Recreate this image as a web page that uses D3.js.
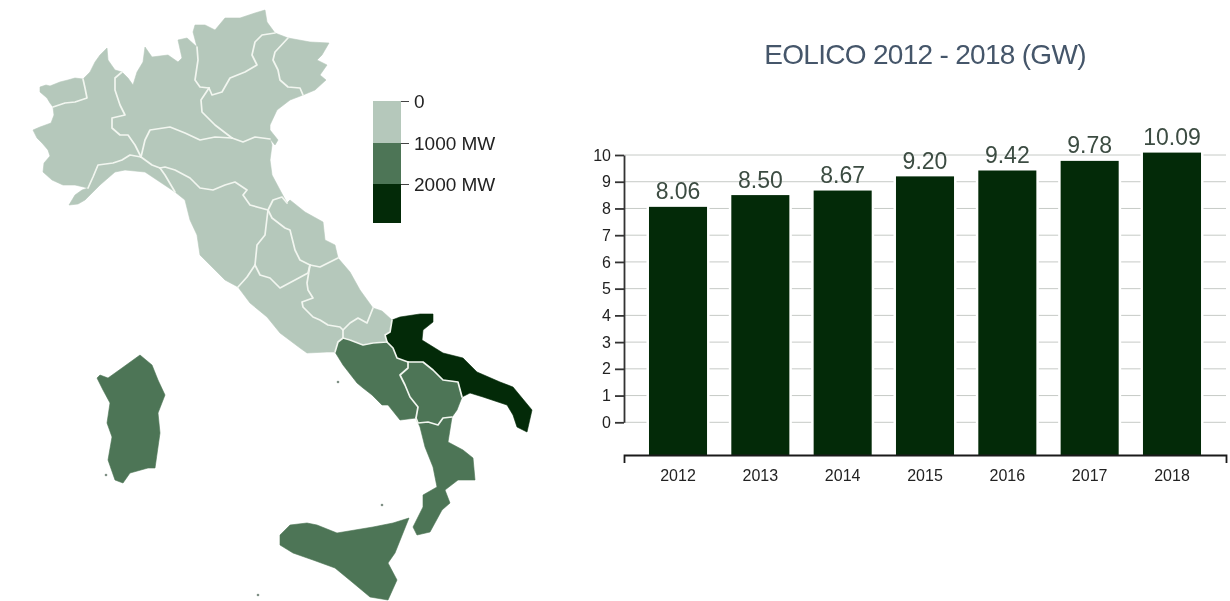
<!DOCTYPE html>
<html>
<head>
<meta charset="utf-8">
<title>Eolico 2012 - 2018</title>
<script src="https://cdn.jsdelivr.net/npm/d3@7"></script>
<style>
  html, body { margin: 0; padding: 0; background: #fff; overflow: hidden; }
  svg { filter: blur(0.55px); }
  text { font-family: "Liberation Sans", Arial, sans-serif; }
</style>
</head>
<body>
<svg id="chart" width="1230" height="601"></svg>
<script>
// bar chart data
const years = ["2012", "2013", "2014", "2015", "2016", "2017", "2018"];
const capacity = [8.06, 8.5, 8.67, 9.2, 9.42, 9.78, 10.09];
const yTicks = [0, 1, 2, 3, 4, 5, 6, 7, 8, 9, 10];

// legend
const legendStops = [0, 1000, 2000, 3000];
const legendTicks = [0, 1000, 2000];
const classColors = ["#b5c8bb", "#4d7556", "#032a08"];

// wind power per region, estimated from the legend class only (MW)
const regionNames = ["Valle d'Aosta", "Piemonte", "Liguria", "Lombardia", "Trentino-Alto Adige", "Veneto", "Friuli-Venezia Giulia", "Emilia-Romagna", "Toscana", "Umbria", "Marche", "Lazio", "Abruzzo", "Molise", "Campania", "Puglia", "Basilicata", "Calabria", "Sicilia", "Sardegna"];
const regionMW = [5, 20, 60, 5, 5, 15, 5, 40, 140, 5, 20, 70, 260, 380, 1500, 2500, 1200, 1100, 1800, 1050];

// region borders, shared between neighbours
const aostaNorth = [[53,107],[50,103],[47,98],[40,92],[40,87],[46,85],[50,86],[60,82],[68,80],[75,78],[83,79]];
const aostaPiem = [[83,79],[85,88],[87,98],[75,102],[65,103],[53,107]];
const piemWest = [[53,107],[54,115],[51,123],[40,127],[33,130],[37,138],[42,143],[48,150],[50,156],[44,163],[43,172],[52,180],[63,185],[75,185],[88,188]];
const piemLig = [[88,188],[93,177],[98,165],[113,163],[122,160],[130,155],[141,157]];
const piemLomb = [[122,72],[115,78],[115,90],[120,105],[125,115],[112,118],[112,128],[120,135],[128,135],[135,145],[141,157]];
const piemNorth = [[122,72],[115,70],[108,60],[107,48],[100,55],[95,62],[90,72],[83,79]];
const ligCoast = [[88,188],[82,190],[75,195],[69,205],[78,204],[85,200],[100,185],[115,172],[125,170],[145,172],[160,182],[175,192]];
const ligTusc = [[175,192],[165,175],[160,168]];
const ligEmil = [[160,168],[152,165],[141,157]];
const lombNorth = [[122,72],[128,78],[133,85],[137,72],[143,62],[145,47],[152,57],[168,55],[178,62],[182,58],[178,40],[187,38],[197,47]];
const lombTrent = [[197,47],[198,60],[195,80],[200,87],[209,88]];
const lombVen = [[209,88],[201,100],[202,112],[215,125],[232,138]];
const lombEmil = [[232,138],[215,137],[200,140],[185,133],[170,127],[150,130],[145,140],[141,157]];
const trentNorth = [[197,47],[193,32],[195,25],[205,25],[215,30],[225,18],[240,18],[255,13],[265,10],[267,22],[275,33]];
const trentVen = [[275,33],[262,35],[255,42],[252,55],[257,65],[245,72],[230,78],[222,92],[212,95],[209,88]];
const venNorth = [[275,33],[288,38]];
const venFriuli = [[288,38],[275,52],[273,60],[278,70],[280,80],[288,87],[300,88],[303,95]];
const venCoast = [[303,95],[290,100],[277,110],[270,125],[270,130],[278,140],[275,145],[270,139]];
const venEmil = [[270,139],[255,137],[243,142],[232,138]];
const friuliCoast = [[288,38],[310,42],[329,43],[322,55],[317,60],[327,65],[320,75],[326,80],[315,90],[303,95]];
const emilTusc = [[160,168],[165,167],[175,170],[190,178],[200,188],[213,190],[225,185],[235,182],[247,190],[243,195],[250,205],[268,210]];
const emilMarche = [[268,210],[273,200],[282,197],[287,203]];
const emilCoast = [[287,203],[280,190],[272,175],[270,160],[272,145],[270,139]];
const umbTusc = [[268,210],[267,218],[265,235],[257,245],[255,265]];
const tuscLaz = [[255,265],[247,277],[238,287]];
const tuscCoast = [[238,287],[225,280],[210,265],[200,255],[197,235],[190,220],[185,200],[175,192]];
const umbLaz = [[255,265],[260,275],[270,278],[280,288],[295,280],[308,273],[310,265]];
const marcheUmb = [[268,210],[272,218],[285,228],[290,230],[295,250],[300,260],[310,265]];
const marcheAbr = [[310,265],[320,267],[338,258]];
const marcheCoast = [[338,258],[335,245],[325,240],[323,222],[305,212],[290,200],[287,203]];
const lazAbr = [[310,265],[307,283],[308,290],[313,298],[302,302],[303,307],[313,317],[320,320],[328,325],[340,327],[343,330]];
const lazMol = [[343,330],[343,338]];
const lazCamp = [[343,338],[338,342],[335,352]];
const lazCoast = [[335,352],[327,352],[307,353],[300,348],[280,333],[267,317],[250,303],[238,287]];
const abrCoast = [[338,258],[350,272],[360,290],[373,308]];
const abrMol = [[373,308],[367,323],[358,318],[350,323],[343,330]];
const molCoast = [[373,308],[382,311],[392,320]];
const molPug = [[392,320],[390,332],[385,335],[387,342]];
const molCamp = [[387,342],[373,343],[363,345],[350,340],[343,338]];
const pugCoast = [[392,320],[400,317],[420,314],[433,314],[433,322],[423,330],[422,340],[443,353],[463,358],[477,372],[500,382],[513,387],[532,410],[527,432],[517,427],[513,415],[507,405],[483,397],[470,393],[462,397]];
const pugBas = [[408,362],[423,362],[433,370],[443,380],[458,382],[462,397]];
const pugCamp = [[387,342],[393,348],[397,358],[408,362]];
const campBas = [[408,362],[408,368],[400,375],[405,385],[410,397],[418,407],[416,418]];
const campCoast = [[335,352],[343,365],[357,383],[363,388],[372,395],[382,405],[388,405],[400,420],[416,418]];
const basCoast = [[462,397],[457,410],[452,417]];
const basCal = [[452,417],[443,418],[438,425],[428,422],[418,423],[416,418]];
const calCoast = [[416,418],[420,427],[425,447],[433,467],[437,487],[423,495],[423,507],[413,527],[417,535],[430,532],[442,510],[450,503],[445,490],[458,480],[475,480],[473,458],[463,450],[448,442],[452,417]];
const sicily = [[280,535],[290,525],[307,523],[317,525],[337,533],[373,527],[393,523],[409,518],[395,553],[388,563],[397,580],[388,600],[370,597],[352,582],[335,568],[313,560],[293,553],[280,545]];
const sardinia = [[97,378],[100,375],[108,378],[122,368],[140,355],[152,365],[158,380],[165,395],[158,413],[160,433],[155,468],[148,468],[130,473],[123,483],[115,480],[108,460],[112,437],[107,423],[110,403],[103,390]];
const islets = [[106,475],[338,382],[258,595],[382,505]];

const rev = (a) => a.slice().reverse();
const ring = (...parts) => parts.flat();

const regionRings = [
  ring(aostaNorth, aostaPiem),
  ring(piemWest, piemLig, rev(piemLomb), piemNorth, aostaPiem),
  ring(rev(piemLig), ligCoast, ligTusc, ligEmil),
  ring(lombNorth, lombTrent, lombVen, lombEmil, rev(piemLomb)),
  ring(trentNorth, trentVen, rev(lombTrent)),
  ring(rev(trentVen), venNorth, venFriuli, venCoast, venEmil, rev(lombVen)),
  ring(friuliCoast, rev(venFriuli)),
  ring(lombEmil, rev(ligEmil), emilTusc, emilMarche, emilCoast, venEmil),
  ring(ligTusc, emilTusc, umbTusc, tuscLaz, tuscCoast),
  ring(umbTusc, umbLaz, rev(marcheUmb)),
  ring(marcheUmb, marcheAbr, marcheCoast, rev(emilMarche)),
  ring(rev(tuscLaz), umbLaz, lazAbr, lazMol, lazCamp, lazCoast),
  ring(marcheAbr, abrCoast, abrMol, rev(lazAbr)),
  ring(molCoast, molPug, molCamp, rev(lazMol), rev(abrMol)),
  ring(rev(lazCamp), rev(molCamp), pugCamp, campBas, rev(campCoast)),
  ring(pugCoast, rev(pugBas), rev(pugCamp), rev(molPug)),
  ring(pugBas, basCoast, basCal, rev(campBas)),
  ring(basCal, calCoast),
  sicily,
  sardinia,
];

// only the land borders get the pale line, the coast stays bare
const innerBorders = [aostaPiem, piemLig, piemLomb, ligTusc, ligEmil, lombTrent, lombVen, lombEmil, trentVen, venFriuli, venEmil, emilTusc, emilMarche, umbTusc, tuscLaz, umbLaz, marcheUmb, marcheAbr, lazAbr, lazMol, lazCamp, abrMol, molPug, molCamp, pugBas, pugCamp, campBas, basCal];

const svg = d3.select("#chart");
const color = d3.scaleThreshold().domain([1000, 2000]).range(classColors);

drawMap();
drawLegend();
drawBars();

function drawMap() {
  const path = d3.geoPath(d3.geoIdentity());
  const features = regionRings.map((r, i) => ({
    type: "Feature",
    properties: { name: regionNames[i], mw: regionMW[i] },
    geometry: { type: "Polygon", coordinates: [r.concat([r[0]])] },
  }));
  svg
    .append("g")
    .selectAll("path")
    .data(features)
    .join("path")
    .attr("d", path)
    .attr("fill", (d) => color(d.properties.mw))
    .attr("stroke", (d) => color(d.properties.mw))
    .attr("stroke-width", 0.6);
  svg
    .append("g")
    .selectAll("path")
    .data(innerBorders)
    .join("path")
    .attr("d", d3.line())
    .attr("fill", "none")
    .attr("stroke", "#f2f6f0")
    .attr("stroke-width", 1.7)
    .attr("stroke-linejoin", "round")
    .attr("stroke-linecap", "round");
  svg
    .append("g")
    .selectAll("circle")
    .data(islets)
    .join("circle")
    .attr("cx", (d) => d[0])
    .attr("cy", (d) => d[1])
    .attr("r", 1.3)
    .attr("fill", "#7f9085");
}

function drawLegend() {
  const y = d3.scaleLinear().domain(legendStops).range([101, 143, 184, 223]);
  const g = svg.append("g");
  g.selectAll("rect")
    .data(classColors)
    .join("rect")
    .attr("x", 373)
    .attr("width", 28)
    .attr("y", (d, i) => y(legendStops[i]))
    .attr("height", (d, i) => y(legendStops[i + 1]) - y(legendStops[i]))
    .attr("fill", (d) => d);
  const axis = g
    .append("g")
    .attr("transform", "translate(401, 0)")
    .call(
      d3
        .axisRight(y)
        .tickValues(legendTicks)
        .tickSize(8)
        .tickPadding(5)
        .tickFormat((d) => (d === 0 ? "0" : d + " MW"))
    );
  axis.select(".domain").remove();
  axis.selectAll("line").attr("stroke", "#444");
  axis.selectAll("text").attr("font-size", 19).attr("fill", "#222").attr("font-family", null);
}

function drawBars() {
  const left = 624, right = 1226, top = 155, zero = 422.3, bottom = 455;
  const x = d3
    .scaleBand()
    .domain(years)
    .range([left, right])
    .paddingInner(0.295)
    .paddingOuter(0.3035);
  const y = d3.scaleLinear().domain([0, 10]).range([zero, top]);

  svg
    .append("text")
    .attr("x", 925)
    .attr("y", 64)
    .attr("text-anchor", "middle")
    .attr("font-size", 28)
    .attr("letter-spacing", -0.7)
    .attr("fill", "#45566a")
    .text("EOLICO 2012 - 2018 (GW)");

  svg
    .append("g")
    .selectAll("line")
    .data(yTicks)
    .join("line")
    .attr("x1", left)
    .attr("x2", right)
    .attr("y1", (d) => y(d))
    .attr("y2", (d) => y(d))
    .attr("stroke", "#c6cac6");

  // white halo keeps the grid lines off the bars
  svg
    .append("g")
    .selectAll("rect")
    .data(capacity)
    .join("rect")
    .attr("x", (d, i) => x(years[i]))
    .attr("y", (d) => y(d))
    .attr("width", x.bandwidth())
    .attr("height", (d) => bottom - y(d))
    .attr("fill", "#032a08")
    .attr("stroke", "#fff")
    .attr("stroke-width", 5)
    .attr("paint-order", "stroke");

  svg
    .append("g")
    .selectAll("text")
    .data(capacity)
    .join("text")
    .attr("x", (d, i) => x(years[i]) + x.bandwidth() / 2)
    .attr("y", (d) => y(d) - 7.5)
    .attr("text-anchor", "middle")
    .attr("font-size", 23)
    .attr("fill", "#3c4c42")
    .text((d) => d.toFixed(2));

  const yAxis = svg
    .append("g")
    .attr("transform", `translate(${left}, 0)`)
    .call(d3.axisLeft(y).tickValues(yTicks).tickSize(9).tickSizeOuter(0).tickPadding(4));
  yAxis.selectAll("path, line").attr("stroke", "#333").attr("stroke-width", 1.8);
  yAxis.selectAll("text").attr("font-size", 16).attr("fill", "#222").attr("font-family", null);

  const xAxis = svg
    .append("g")
    .attr("transform", `translate(0, ${bottom})`)
    .call(d3.axisBottom(x).tickSizeInner(0).tickSizeOuter(8).tickPadding(15));
  xAxis.select(".domain").attr("stroke", "#1a1a1a").attr("stroke-width", 1.8);
  xAxis.selectAll("text").attr("font-size", 16).attr("fill", "#222").attr("font-family", null);
}
</script>
</body>
</html>
